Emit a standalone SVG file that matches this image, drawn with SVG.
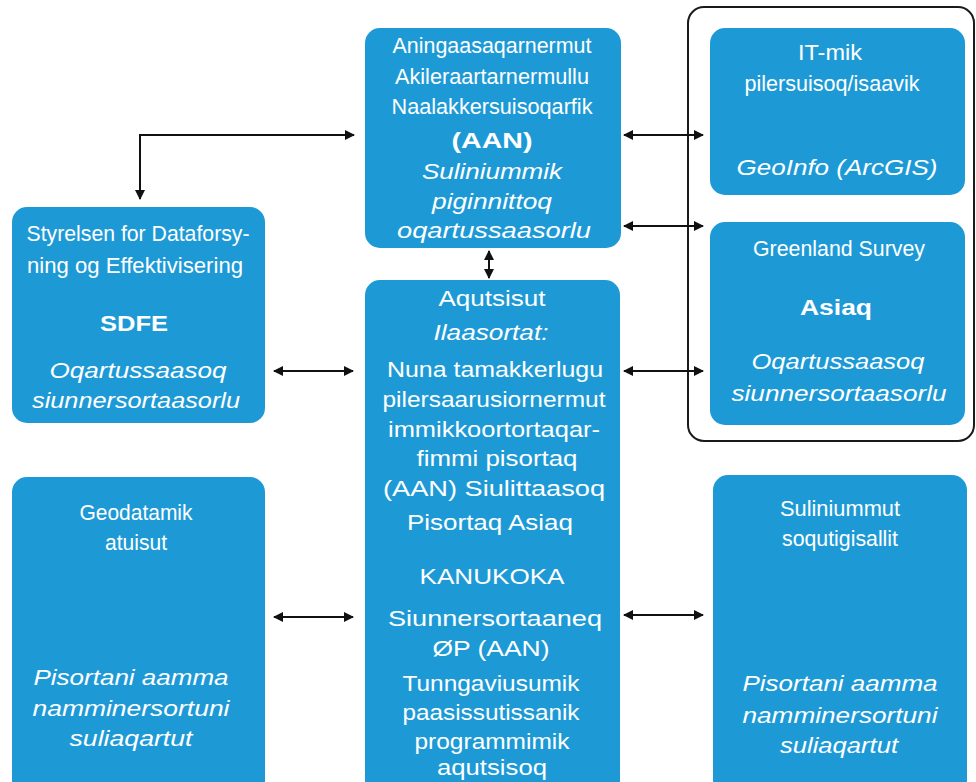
<svg xmlns="http://www.w3.org/2000/svg" width="976" height="782" viewBox="0 0 976 782">
<style>
.box{fill:#1d9ad6;}
.frame{fill:none;stroke:#1a1a1a;stroke-width:2;}
text{font-family:"Liberation Sans",Arial,sans-serif;font-size:22.5px;fill:#ffffff;text-anchor:middle;}
.b{font-weight:bold;}
.i{font-style:italic;}
.c{stroke:#111;stroke-width:2;fill:none;marker-end:url(#ah);}
.d{stroke:#111;stroke-width:2;fill:none;marker-end:url(#ah);marker-start:url(#ahs);}
</style>
<defs>
<marker id="ah" viewBox="0 0 10 10" refX="9" refY="5" markerWidth="6" markerHeight="5" orient="auto" markerUnits="strokeWidth"><path d="M0,0 L10,5 L0,10 Z" fill="#111"/></marker>
<marker id="ahs" viewBox="0 0 10 10" refX="1" refY="5" markerWidth="6" markerHeight="5" orient="auto" markerUnits="strokeWidth"><path d="M10,0 L0,5 L10,10 Z" fill="#111"/></marker>
</defs>
<rect width="976" height="782" fill="#ffffff"/>
<rect class="frame" x="688" y="7" width="286" height="434" rx="16"/>

<g id="aan">
<rect class="box" x="365" y="28" width="256" height="220" rx="15"/>
<text x="492" y="53" textLength="199" lengthAdjust="spacingAndGlyphs">Aningaasaqarnermut</text>
<text x="492" y="84" textLength="194" lengthAdjust="spacingAndGlyphs">Akileraartarnermullu</text>
<text x="492" y="114" textLength="201" lengthAdjust="spacingAndGlyphs">Naalakkersuisoqarfik</text>
<text class="b" x="492" y="148" textLength="81" lengthAdjust="spacingAndGlyphs">(AAN)</text>
<text class="i" x="492" y="179" textLength="140" lengthAdjust="spacingAndGlyphs">Suliniummik</text>
<text class="i" x="492" y="209" textLength="120" lengthAdjust="spacingAndGlyphs">piginnittoq</text>
<text class="i" x="494" y="238" textLength="194" lengthAdjust="spacingAndGlyphs">oqartussaasorlu</text>
</g>

<g id="aqutsisut">
<rect class="box" x="365" y="280" width="255" height="520" rx="15"/>
<text x="492" y="306" textLength="107" lengthAdjust="spacingAndGlyphs">Aqutsisut</text>
<text class="i" x="491" y="340" textLength="115" lengthAdjust="spacingAndGlyphs">Ilaasortat:</text>
<text x="495" y="377" textLength="216" lengthAdjust="spacingAndGlyphs">Nuna tamakkerlugu</text>
<text x="494" y="407" textLength="223" lengthAdjust="spacingAndGlyphs">pilersaarusiornermut</text>
<text x="494" y="437" textLength="212" lengthAdjust="spacingAndGlyphs">immikkoortortaqar-</text>
<text x="497" y="466" textLength="161" lengthAdjust="spacingAndGlyphs">fimmi pisortaq</text>
<text x="494" y="496" textLength="222" lengthAdjust="spacingAndGlyphs">(AAN) Siulittaasoq</text>
<text x="490" y="530" textLength="166" lengthAdjust="spacingAndGlyphs">Pisortaq Asiaq</text>
<text x="492" y="584" textLength="145" lengthAdjust="spacingAndGlyphs">KANUKOKA</text>
<text x="495" y="626" textLength="214" lengthAdjust="spacingAndGlyphs">Siunnersortaaneq</text>
<text x="491" y="656" textLength="117" lengthAdjust="spacingAndGlyphs">ØP (AAN)</text>
<text x="491" y="691" textLength="177" lengthAdjust="spacingAndGlyphs">Tunngaviusumik</text>
<text x="491" y="720" textLength="177" lengthAdjust="spacingAndGlyphs">paasissutissanik</text>
<text x="492" y="749" textLength="155" lengthAdjust="spacingAndGlyphs">programmimik</text>
<text x="492" y="775" textLength="110" lengthAdjust="spacingAndGlyphs">aqutsisoq</text>
</g>

<g id="sdfe">
<rect class="box" x="12" y="207" width="253" height="216" rx="15"/>
<text x="138" y="241" textLength="223" lengthAdjust="spacingAndGlyphs">Styrelsen for Dataforsy-</text>
<text x="135" y="273" textLength="216" lengthAdjust="spacingAndGlyphs">ning og Effektivisering</text>
<text class="b" x="134" y="331" textLength="68" lengthAdjust="spacingAndGlyphs">SDFE</text>
<text class="i" x="138" y="378" textLength="177" lengthAdjust="spacingAndGlyphs">Oqartussaasoq</text>
<text class="i" x="136" y="408" textLength="208" lengthAdjust="spacingAndGlyphs">siunnersortaasorlu</text>
</g>

<g id="itmik">
<rect class="box" x="710" y="28" width="255" height="167" rx="15"/>
<text x="830" y="60" textLength="64" lengthAdjust="spacingAndGlyphs">IT-mik</text>
<text x="832" y="91" textLength="175" lengthAdjust="spacingAndGlyphs">pilersuisoq/isaavik</text>
<text class="i" x="837" y="175" textLength="201" lengthAdjust="spacingAndGlyphs">GeoInfo (ArcGIS)</text>
</g>

<g id="asiaq">
<rect class="box" x="710" y="222" width="255" height="203" rx="15"/>
<text x="839" y="256" textLength="172" lengthAdjust="spacingAndGlyphs">Greenland Survey</text>
<text class="b" x="836" y="315" textLength="72" lengthAdjust="spacingAndGlyphs">Asiaq</text>
<text class="i" x="838" y="369" textLength="173" lengthAdjust="spacingAndGlyphs">Oqartussaasoq</text>
<text class="i" x="839" y="401" textLength="215" lengthAdjust="spacingAndGlyphs">siunnersortaasorlu</text>
</g>

<g id="geodatamik">
<rect class="box" x="12" y="477" width="253" height="320" rx="15"/>
<text x="136" y="520" textLength="113" lengthAdjust="spacingAndGlyphs">Geodatamik</text>
<text x="136" y="550" textLength="62" lengthAdjust="spacingAndGlyphs">atuisut</text>
<text class="i" x="131" y="685" textLength="195" lengthAdjust="spacingAndGlyphs">Pisortani aamma</text>
<text class="i" x="131" y="716" textLength="197" lengthAdjust="spacingAndGlyphs">namminersortuni</text>
<text class="i" x="131" y="746" textLength="123" lengthAdjust="spacingAndGlyphs">suliaqartut</text>
</g>

<g id="suliniummut">
<rect class="box" x="713" y="475" width="254" height="320" rx="15"/>
<text x="840" y="516" textLength="120" lengthAdjust="spacingAndGlyphs">Suliniummut</text>
<text x="840" y="546" textLength="116" lengthAdjust="spacingAndGlyphs">soqutigisallit</text>
<text class="i" x="840" y="691" textLength="195" lengthAdjust="spacingAndGlyphs">Pisortani aamma</text>
<text class="i" x="840" y="723" textLength="195" lengthAdjust="spacingAndGlyphs">namminersortuni</text>
<text class="i" x="839" y="753" textLength="118" lengthAdjust="spacingAndGlyphs">suliaqartut</text>
</g>

<g id="connectors">
<path class="c" d="M140,135 L354,135"/>
<path class="c" d="M140,134 L140,199"/>
<path class="d" d="M624,135 L703,135"/>
<path class="d" d="M624,226 L703,226"/>
<path class="d" d="M489,251 L489,278"/>
<path class="d" d="M624,371 L703,371"/>
<path class="d" d="M274,371 L353,371"/>
<path class="d" d="M274,617 L353,617"/>
<path class="d" d="M624,615 L703,615"/>
</g>
</svg>
